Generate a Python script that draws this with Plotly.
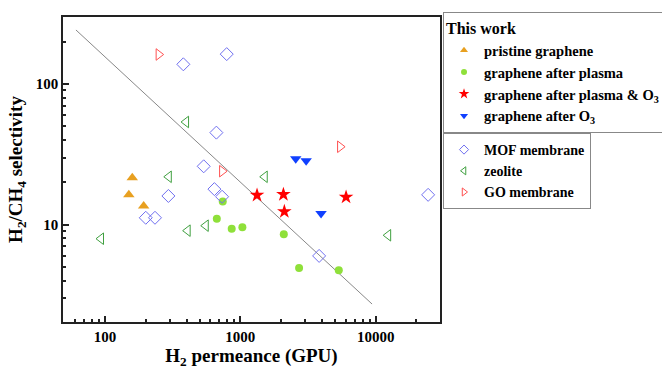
import plotly.graph_objects as go

# ---- data ----
pristine_x = [159, 150, 193]
pristine_y = [21.6, 16.3, 13.6]

plasma_x = [741, 670, 863, 1035, 2094, 2716, 5335]
plasma_y = [14.6, 11.0, 9.37, 9.6, 8.55, 4.92, 4.74]

plasma_o3_x = [1328, 2080, 2113, 6040]
plasma_o3_y = [16.2, 16.4, 12.4, 15.7]

o3_x = [2565, 3062, 3946]
o3_y = [29.4, 28.5, 12.0]

mof_x = [793, 379, 665, 536, 294, 643, 733, 200, 234, 3819, 24400]
mof_y = [163, 138, 45.1, 26.0, 16.0, 17.9, 15.8, 11.2, 11.2, 6.0, 16.3]

zeo_x = [397, 296, 1514, 408, 555, 93.4, 12360]
zeo_y = [53.7, 21.9, 21.9, 9.07, 9.84, 7.95, 8.41]

go_x = [249, 733, 5455]
go_y = [162, 24.0, 35.8]

bound_x = [61, 9400]
bound_y = [242, 2.73]

xtick_vals = [100, 1000, 10000]
ytick_vals = [10, 100]

FONT = "Liberation Serif"

fig = go.Figure()

fig.add_trace(go.Scatter(x=bound_x, y=bound_y, mode="lines",
                         line=dict(color="#888888", width=1),
                         showlegend=False, hoverinfo="skip"))


def add(x, y, name, symbol, color, size, legend, lsize, open_=False):
    marker = dict(symbol=symbol, size=size, color=color,
                  line=dict(color=color, width=1 if open_ else 0))
    fig.add_trace(go.Scatter(x=x, y=y, mode="markers", name=name,
                             marker=marker, showlegend=False))
    # legend-only entry with the small legend symbol
    lmarker = dict(symbol=symbol, size=lsize, color=color,
                   line=dict(color=color, width=1 if open_ else 0))
    fig.add_trace(go.Scatter(x=[None], y=[None], mode="markers",
                             name="<b>" + name + "</b>",
                             marker=lmarker, legend=legend, hoverinfo="skip"))


add(pristine_x, pristine_y, "pristine graphene", "triangle-up", "#E8A020", 10, "legend", 7)
add(plasma_x, plasma_y, "graphene after plasma", "circle", "#8FE03A", 8, "legend", 6)
add(plasma_o3_x, plasma_o3_y, "graphene after plasma &amp; O<sub>3</sub>", "star", "#FF0000", 11, "legend", 8)
add(o3_x, o3_y, "graphene after O<sub>3</sub>", "triangle-down", "#1040FF", 10, "legend", 7)
add(mof_x, mof_y, "MOF membrane", "diamond-open", "#7070F0", 10, "legend2", 7, open_=True)
add(zeo_x, zeo_y, "zeolite", "triangle-left-open", "#40A040", 10, "legend2", 7, open_=True)
add(go_x, go_y, "GO membrane", "triangle-right-open", "#FF5050", 10, "legend2", 7, open_=True)

axis_common = dict(
    type="log", showline=True, linecolor="#222222", linewidth=1.5, mirror=True,
    ticks="inside", ticklen=6, tickwidth=1.5, tickcolor="#222222",
    showgrid=False, zeroline=False,
    tickfont=dict(family=FONT, size=15, color="black"),
)

fig.update_layout(
    width=662, height=370,
    margin=dict(l=63, r=222, t=17, b=48, autoexpand=False),
    paper_bgcolor="white", plot_bgcolor="white",
    font=dict(family=FONT, color="black"),
    xaxis=dict(**axis_common, range=[1.6896, 4.475], tickvals=xtick_vals,
               ticktext=["<b>%d</b>" % v for v in xtick_vals],
               minor=dict(ticks="inside", ticklen=3, tickcolor="#222222",
                          tickvals=[60, 70, 80, 90, 200, 300, 400, 500, 600, 700, 800, 900,
                                    2000, 3000, 4000, 5000, 6000, 7000, 8000, 9000, 20000]),
               title=dict(text="<b>H<sub>2</sub> permeance (GPU)</b>", standoff=4,
                          font=dict(family=FONT, size=19))),
    yaxis=dict(**axis_common, range=[0.3085, 2.476], tickvals=ytick_vals,
               ticktext=["<b>%d</b>" % v for v in ytick_vals],
               minor=dict(ticks="inside", ticklen=3, tickcolor="#222222",
                          tickvals=[3, 4, 5, 6, 7, 8, 9, 20, 30, 40, 50, 60, 70, 80, 90, 200]),
               title=dict(text="<b>H<sub>2</sub>/CH<sub>4</sub> selectivity</b>", standoff=8,
                          font=dict(family=FONT, size=19))),
    legend=dict(x=1.008, y=1.015, xanchor="left", yanchor="top",
                bordercolor="#888888", borderwidth=1, bgcolor="white",
                title=dict(text="<b>This work</b>", font=dict(family=FONT, size=16)),
                font=dict(family=FONT, size=14.5),
                itemsizing="trace", itemwidth=30, tracegroupgap=0),
    legend2=dict(x=1.008, y=0.6197, xanchor="left", yanchor="top",
                 bordercolor="#888888", borderwidth=1, bgcolor="white",
                 font=dict(family=FONT, size=14),
                 itemsizing="trace", itemwidth=30, tracegroupgap=0),
)

fig.write_html("out.html")
